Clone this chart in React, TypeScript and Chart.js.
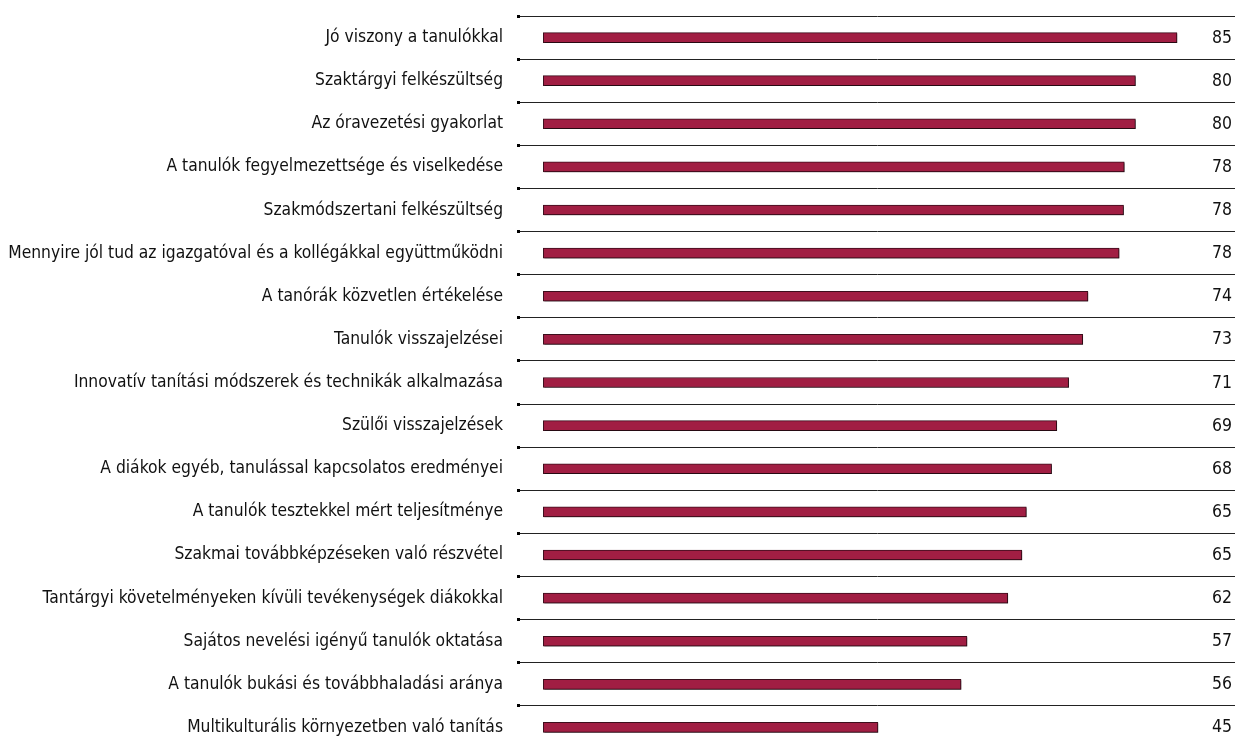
import React, { useEffect, useRef } from "react";
import { Chart, registerables } from "chart.js";

Chart.register(...registerables);

const categories: string[] = [
  "Jó viszony a tanulókkal",
  "Szaktárgyi felkészültség",
  "Az óravezetési gyakorlat",
  "A tanulók fegyelmezettsége és viselkedése",
  "Szakmódszertani felkészültség",
  "Mennyire jól tud az igazgatóval és a kollégákkal együttműködni",
  "A tanórák közvetlen értékelése",
  "Tanulók visszajelzései",
  "Innovatív tanítási módszerek és technikák alkalmazása",
  "Szülői visszajelzések",
  "A diákok egyéb, tanulással kapcsolatos eredményei",
  "A tanulók tesztekkel mért teljesítménye",
  "Szakmai továbbképzéseken való részvétel",
  "Tantárgyi követelményeken kívüli tevékenységek diákokkal",
  "Sajátos nevelési igényű tanulók oktatása",
  "A tanulók bukási és továbbhaladási aránya",
  "Multikulturális környezetben való tanítás",
];

const values: number[] = [
  85.4, 79.8, 79.8, 78.3, 78.2, 77.6, 73.4, 72.7, 70.8, 69.2, 68.5, 65.1, 64.5,
  62.6, 57.1, 56.3, 45.1,
];

const valueLabels: string[] = [
  "85", "80", "80", "78", "78", "78", "74", "73", "71", "69", "68", "65", "65",
  "62", "57", "56", "45",
];

const FONT = "'Liberation Sans Narrow', 'DejaVu Sans Condensed', 'Roboto', sans-serif";

export default function App() {
  const ref = useRef<HTMLCanvasElement | null>(null);

  useEffect(() => {
    if (!ref.current) return;

    const shadowPlugin = {
      id: "barShadow",
      beforeDatasetsDraw(chart: any) {
        const ctx = chart.ctx;
        ctx.save();
        ctx.shadowColor = "rgba(0,0,0,0.35)";
        ctx.shadowOffsetX = 1;
        ctx.shadowOffsetY = 1;
        ctx.shadowBlur = 0;
      },
      afterDatasetsDraw(chart: any) {
        const ctx = chart.ctx;
        ctx.restore();
        const meta = chart.getDatasetMeta(0);
        ctx.save();
        ctx.font = `17.5px ${FONT}`;
        ctx.fillStyle = "#111";
        ctx.textAlign = "right";
        ctx.textBaseline = "middle";
        meta.data.forEach((el: any, i: number) => {
          ctx.fillText(valueLabels[i], chart.chartArea.right - 3, el.y + 0.5);
        });
        ctx.restore();
      },
    };

    const chart = new Chart(ref.current, {
      type: "bar",
      data: {
        labels: categories,
        datasets: [
          {
            data: values,
            base: 0,
            backgroundColor: "#A11E43",
            borderColor: "#3D0E1C",
            borderWidth: 1,
            borderSkipped: false,
            barThickness: 10,
          } as any,
        ],
      },
      options: {
        indexAxis: "y",
        animation: false,
        responsive: true,
        maintainAspectRatio: false,
        layout: { padding: { top: 16, left: 0, right: 0, bottom: 0 } },
        plugins: {
          legend: { display: false },
          tooltip: { enabled: false },
        },
        scales: {
          x: {
            display: false,
            min: -3.14,
            max: 93.22,
          },
          y: {
            type: "category",
            offset: true,
            border: { display: false },
            grid: {
              offset: true,
              color: "#222",
              lineWidth: 1,
              tickLength: 3,
              tickWidth: 3,
              tickColor: "#000",
              drawTicks: true,
            },
            ticks: {
              autoSkip: false,
              padding: 14,
              color: "#111",
              font: { family: FONT, size: 17.3 },
            },
            afterFit(scale: any) {
              scale.width = 520;
              scale.paddingTop = 0;
              scale.paddingBottom = 0;
            },
          },
        },
      },
      plugins: [shadowPlugin],
    });

    return () => chart.destroy();
  }, []);

  return (
    <div
      style={{
        position: "fixed",
        top: 0,
        left: 0,
        width: 1235,
        height: 740,
        overflow: "hidden",
        background: "#fff",
      }}
    >
      <div style={{ position: "relative", width: 1235, height: 749 }}>
        <canvas ref={ref} />
      </div>
    </div>
  );
}
